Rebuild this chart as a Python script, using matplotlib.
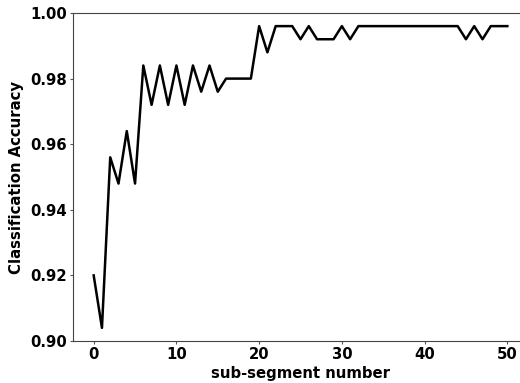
import matplotlib
matplotlib.use('Agg')
import matplotlib.pyplot as plt
import numpy as np

# classification accuracy per sub-segment
accuracy = [0.920, 0.904, 0.956, 0.948, 0.964, 0.948, 0.984, 0.972, 0.984, 0.972,
            0.984, 0.972, 0.984, 0.976, 0.984, 0.976, 0.980, 0.980, 0.980, 0.980,
            0.996, 0.988, 0.996, 0.996, 0.996, 0.992, 0.996, 0.992, 0.992, 0.992,
            0.996, 0.992, 0.996, 0.996, 0.996, 0.996, 0.996, 0.996, 0.996, 0.996,
            0.996, 0.996, 0.996, 0.996, 0.996, 0.992, 0.996, 0.992, 0.996, 0.996,
            0.996]
segments = np.arange(len(accuracy))

plt.rcParams['font.weight'] = 'bold'
plt.rcParams['axes.labelweight'] = 'bold'

fig = plt.figure(figsize=(5.2, 3.83), dpi=100)
ax = fig.add_axes([73 / 520, 1 - 341 / 383, 455 / 520, 328 / 383])

ax.plot(segments, accuracy, color='black', linewidth=1.8)
ax.set_ylim(0.90, 1.00)
ax.set_xlim(-2.5, 52.5)
ax.set_yticks([0.90, 0.92, 0.94, 0.96, 0.98, 1.00])
ax.set_xticks([0, 10, 20, 30, 40, 50])

ax.set_xlabel('sub-segment number', fontsize=10.7, labelpad=2.5)
ax.set_ylabel('Classification Accuracy', fontsize=10.7, labelpad=4)
ax.tick_params(labelsize=10.7, color='#555555', length=2.5, pad=2)
for s in ax.spines.values():
    s.set_color('#444444')

fig.savefig('out.png', dpi=100)
